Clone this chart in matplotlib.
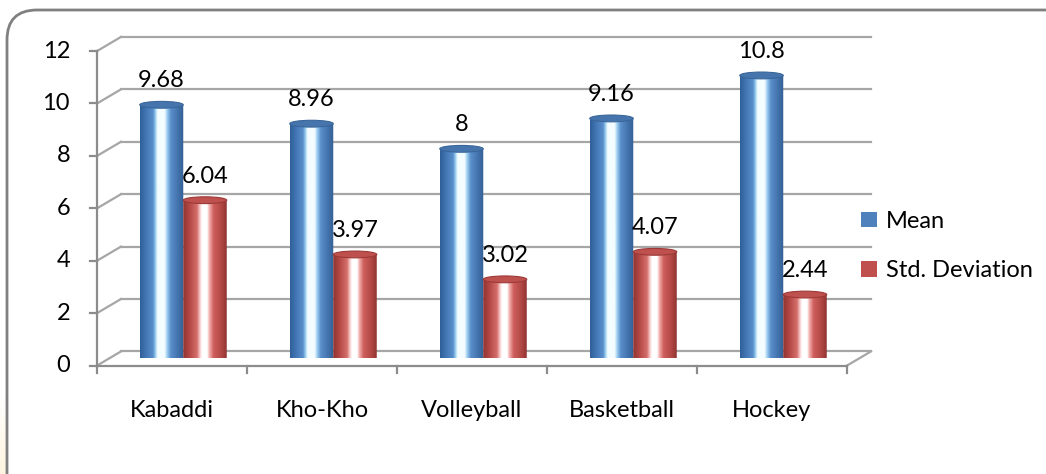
import matplotlib
matplotlib.use("Agg")
import matplotlib.pyplot as plt
import numpy as np
from matplotlib.colors import LinearSegmentedColormap
from matplotlib.patches import Ellipse, Patch, PathPatch, FancyBboxPatch
from matplotlib.path import Path
from matplotlib.transforms import IdentityTransform

plt.rcParams["font.family"] = ["Lato", "DejaVu Sans"]

categories = ["Kabaddi", "Kho-Kho", "Volleyball", "Basketball", "Hockey"]
mean_vals = [9.68, 8.96, 8.0, 9.16, 10.8]
std_vals = [6.04, 3.97, 3.02, 4.07, 2.44]
series_names = ["Mean", "Std. Deviation"]
y_ticks = [0, 2, 4, 6, 8, 10, 12]

BLUE = "#4F81BD"
RED = "#C0504D"
GRID = "#A6A6A6"
AXIS = "#8C8C8C"
FS = 17

blue_cmap = LinearSegmentedColormap.from_list("cyl_b", [
    (0.0, "#2F5F98"), (0.15, "#4478B6"), (0.30, "#5A90CC"), (0.36, "#A6D8F5"),
    (0.40, "#F4FDFF"), (0.56, "#F4FDFF"), (0.62, "#9CCDF0"), (0.70, "#5A8FCB"),
    (0.88, "#4170AA"), (1.0, "#335F93")])
red_cmap = LinearSegmentedColormap.from_list("cyl_r", [
    (0.0, "#8E3432"), (0.15, "#B44845"), (0.32, "#D56F6C"), (0.38, "#F5C3C1"),
    (0.43, "#FFFFFF"), (0.55, "#FFFFFF"), (0.60, "#F1B0AE"), (0.70, "#CE5E5B"),
    (0.88, "#B04744"), (1.0, "#8E3331")])

# depth offsets in data units (front wall / back wall relative to bar plane)
DX, DY = 0.08, 0.27
ELL_H = 0.26
BAR_W = 0.29

fig = plt.figure(figsize=(10.46, 4.74), dpi=100)
fig.patch.set_facecolor("white")

# faint page glow at left edge and rounded chart border
glow = np.linspace(0, 1, 80).reshape(-1, 1)
fig.figimage(np.dstack([np.full((80, 7), 0.99), np.full((80, 7), 0.90),
                        np.full((80, 7), 0.70), np.repeat(glow, 7, axis=1) * 0.4]),
             xo=0, yo=0, zorder=0, origin="upper")
border = FancyBboxPatch((7, -30), 1100, 494,
                        boxstyle="round,pad=0,rounding_size=30",
                        transform=IdentityTransform(), facecolor="none",
                        edgecolor="#808080", linewidth=2, zorder=1)
fig.patches.append(border)

ax = fig.add_axes([109 / 1046, 115.5 / 474, 750 / 1046, 314.5 / 474])
ax.set_xlim(-0.5, len(categories) - 0.5)
ax.set_ylim(0, 12)
ax.axis("off")
x = np.arange(len(categories))

# back wall gridlines and side wall diagonals
for yv in y_ticks:
    ax.plot([-0.5 + DX, len(categories) - 0.5 + DX], [yv + DY, yv + DY],
            color=GRID, lw=1.6, clip_on=False, zorder=1)
    ax.plot([-0.5 - DX, -0.5 + DX], [yv - DY, yv + DY],
            color=GRID, lw=1.6, clip_on=False, zorder=1)
ax.plot([len(categories) - 0.5 - DX, len(categories) - 0.5 + DX], [-DY, DY],
        color=GRID, lw=1.6, clip_on=False, zorder=1)

# front axes
ax.plot([-0.5 - DX, -0.5 - DX], [-DY, 12 - DY], color=AXIS, lw=1.6, clip_on=False, zorder=2)
ax.plot([-0.5 - DX, len(categories) - 0.5 - DX], [-DY, -DY], color=AXIS, lw=1.6,
        clip_on=False, zorder=2)
for yv in y_ticks:
    ax.plot([-0.5 - DX - 0.047, -0.5 - DX], [yv - DY, yv - DY], color=AXIS, lw=1.6,
            clip_on=False)
    ax.text(-0.5 - DX - 0.18, yv - DY, str(yv), ha="right", va="center", fontsize=FS)
for k in range(len(categories) + 1):
    ax.plot([k - 0.5 - DX] * 2, [-DY, -DY - 0.3], color=AXIS, lw=1.6, clip_on=False)
for i, c in enumerate(categories):
    ax.text(i - DX, -1.97, c, ha="center", va="center", fontsize=FS)

# cylinders
def cylinder(rect, cmap, top_color, edge_color):
    x0, w, h = rect.get_x(), rect.get_width(), rect.get_height()
    rect.set_visible(False)
    t = np.linspace(np.pi, 0, 40)
    bottom = np.column_stack([x0 + w / 2 + w / 2 * np.cos(t), -ELL_H / 2 * np.sin(t)])
    verts = np.vstack([[x0, h], bottom, [x0 + w, h], [x0, h]])
    clip = PathPatch(Path(verts), transform=ax.transData, facecolor="none",
                     edgecolor="none")
    ax.add_patch(clip)
    im = ax.imshow(np.linspace(0, 1, 256).reshape(1, -1), cmap=cmap, aspect="auto",
                   extent=[x0, x0 + w, -ELL_H, h], zorder=3, interpolation="bilinear")
    im.set_clip_path(clip)
    top = Ellipse((x0 + w / 2, h), w, ELL_H, facecolor=top_color,
                  edgecolor=edge_color, lw=0.8, zorder=4, clip_on=False)
    ax.add_patch(top)

bars_m = ax.bar(x - BAR_W / 2 - 0.005, mean_vals, BAR_W, zorder=3)
bars_s = ax.bar(x + BAR_W / 2 - 0.005, std_vals, BAR_W, zorder=3)
for r in bars_m:
    cylinder(r, blue_cmap, "#4675AE", "#3A6699")
for r in bars_s:
    cylinder(r, red_cmap, "#BE504D", "#9C3A38")

for bars, vals in [(bars_m, mean_vals), (bars_s, std_vals)]:
    for r, v in zip(bars, vals):
        ax.annotate(f"{v:g}", (r.get_x() + r.get_width() / 2, v), xytext=(0, 24),
                    textcoords="offset pixels", ha="center", va="center", fontsize=FS)

ax.set_xlim(-0.5, len(categories) - 0.5)
ax.set_ylim(0, 12)

handles = [Patch(facecolor=BLUE), Patch(facecolor=RED)]
fig.legend(handles, series_names, loc="center left", bbox_to_anchor=(840 / 1046, 1 - 246 / 474),
           frameon=False, fontsize=FS, handlelength=0.65, handleheight=0.65,
           handletextpad=0.4, labelspacing=1.2)

fig.savefig("out.png", dpi=100)
